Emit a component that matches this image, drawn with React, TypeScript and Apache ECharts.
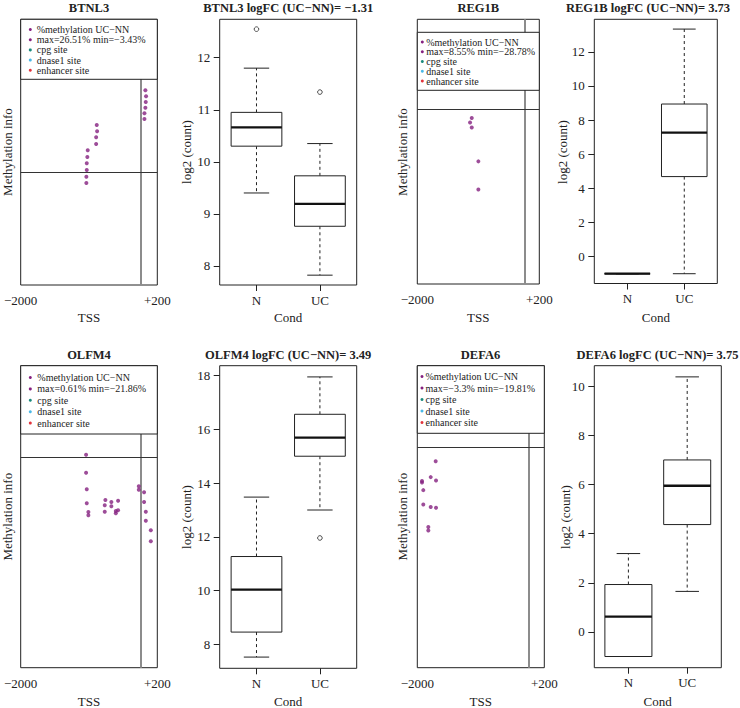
import React, { useEffect, useRef } from "react";
import * as echarts from "echarts";

const FONT = "Liberation Serif, serif";
const INK = "#222";
const PURPLE = "#85207f";

// ---------- Methylation panels: CpG position relative to TSS (bp) and %methylation UC−NN ----------
const btnl3MethPos = [-946, -946, -939, -939, -929, -922, -776, -776, -759, -765, 81, 93, 87, 81, 64, 64];
const btnl3MethVal = [-3.42, -1.39, 0.78, 2.94, 4.97, 7.14, 9.17, 11.34, 13.28, 15.31, 26.52, 24.58, 22.74, 20.9, 19.09, 17.25];

const reg1bMethPos = [-1028, -1061, -1028, -899, -899];
const reg1bMethVal = [-3.2, -4.8, -6.6, -18.7, -28.78];

const olfm4MethPos = [-951, -951, -939, -939, -911, -911, -626, -626, -615, -511, -511, -434, -434, -394, -394, -34, -34, 58, 58, 88, 88, 175, 175];
const olfm4MethVal = [0.61, -4.07, -8.38, -12.01, -14.27, -15.13, -14.19, -12.53, -11.16, -11.68, -12.79, -14.61, -14.01, -13.83, -11.34, -7.6, -8.48, -9.16, -11.68, -14.19, -16.53, -19.02, -21.86];

const defa6MethPos = [-1744, -1837, -1738, -2000, -2000, -1976, -1976, -1837, -1738, -1882, -1882];
const defa6MethVal = [-3.3, -7.1, -7.9, -8.0, -8.4, -10.2, -13.6, -14.2, -14.4, -19.0, -19.81];

const methXLim = [-2000, 200];
const methXTickLabels = ["−2000", "+200"];
const legendFixed = ["%methylation UC−NN", "", "cpg site", "dnase1 site", "enhancer site"];
const legendColors = [PURPLE, PURPLE, "#1a8a7c", "#4ab8e6", "#e2333b"];

// ---------- Expression box plots: [lower whisker, Q1, median, Q3, upper whisker] ----------
const boxCategories = ["N", "UC"];
const btnl3N = [9.4, 10.3, 10.66, 10.95, 11.8];
const btnl3UC = [7.82, 8.76, 9.19, 9.73, 10.35];
const btnl3Outliers = [[1, 12.55], [2, 11.34]];
const reg1bN = [-1, -1, -1, -1, -1];
const reg1bUC = [-1, 4.69, 7.26, 8.94, 13.33];
const reg1bOutliers: number[][] = [];
const olfm4N = [7.53, 8.46, 10.04, 11.27, 13.48];
const olfm4UC = [13.0, 15.0, 15.69, 16.56, 17.95];
const olfm4Outliers = [[2, 11.96]];
const defa6N = [-1, -1, 0.62, 1.93, 3.19];
const defa6UC = [1.65, 4.37, 5.95, 7.0, 10.38];
const defa6Outliers: number[][] = [];

const btnl3Ticks = [8, 9, 10, 11, 12];
const reg1bTicks = [0, 2, 4, 6, 8, 10, 12];
const olfm4Ticks = [8, 10, 12, 14, 16, 18];
const defa6Ticks = [0, 2, 4, 6, 8, 10];

// ---------- layout ----------
type Grid = { left: number; top: number; width: number; height: number };
type LegendBox = { x: number; y: number; w: number; h: number; bx: number; tx: number; y0: number; dy: number };

const methPanels = [
  {
    title: "BTNL3", pos: btnl3MethPos, val: btnl3MethVal, stat: "max=26.51% min=−3.43%", ylim: [-36.37, 49.45],
    grid: { left: 20.7, top: 19.3, width: 136.6, height: 265.7 } as Grid,
    legend: { x: 20.7, y: 19.3, w: 136.6, h: 60, bx: 30.3, tx: 36.7, y0: 29.5, dy: 10.2 } as LegendBox,
    titleXY: [89, 8], ylabXY: [7.5, 152], xlabXY: [89, 317],
  },
  {
    title: "REG1B", pos: reg1bMethPos, val: reg1bMethVal, stat: "max=8.55% min=−28.78%", ylim: [-62.6, 32.15],
    grid: { left: 417.3, top: 19.3, width: 122, height: 264.7 } as Grid,
    legend: { x: 417.3, y: 32.3, w: 122, h: 58, bx: 422.3, tx: 426.2, y0: 42, dy: 9.75 } as LegendBox,
    titleXY: [478.3, 8], ylabXY: [402.5, 152], xlabXY: [478.3, 317],
  },
  {
    title: "OLFM4", pos: olfm4MethPos, val: olfm4MethVal, stat: "max=0.61% min=−21.86%", ylim: [-54.67, 23.7],
    grid: { left: 20.7, top: 365.7, width: 136.6, height: 302 } as Grid,
    legend: { x: 20.7, y: 365.7, w: 136.6, h: 68.3, bx: 30.3, tx: 37.3, y0: 377.5, dy: 11.4 } as LegendBox,
    titleXY: [89, 354.5], ylabXY: [7.5, 516.7], xlabXY: [89, 701],
  },
  {
    title: "DEFA6", pos: defa6MethPos, val: defa6MethVal, stat: "max=−3.3% min=−19.81%", ylim: [-52.48, 19.43],
    grid: { left: 417.3, top: 365.7, width: 127, height: 302 } as Grid,
    legend: { x: 417.3, y: 365.7, w: 127, h: 67.6, bx: 422, tx: 425.5, y0: 376.5, dy: 11.5 } as LegendBox,
    titleXY: [480.5, 354.5], ylabXY: [402.5, 516.7], xlabXY: [480.8, 701],
  },
];

const boxPanels = [
  {
    title: "BTNL3 logFC (UC−NN)= −1.31", n: btnl3N, uc: btnl3UC, out: btnl3Outliers, ticks: btnl3Ticks,
    grid: { left: 219.7, top: 19.3, width: 137, height: 265.7 } as Grid,
    titleXY: [288.2, 8], ylabXY: [186, 152], xlabXY: [288.2, 317],
  },
  {
    title: "REG1B logFC (UC−NN)= 3.73", n: reg1bN, uc: reg1bUC, out: reg1bOutliers, ticks: reg1bTicks,
    grid: { left: 594.3, top: 19.3, width: 123, height: 264.2 } as Grid,
    titleXY: [648, 8], ylabXY: [562, 152], xlabXY: [655.8, 317],
  },
  {
    title: "OLFM4 logFC (UC−NN)= 3.49", n: olfm4N, uc: olfm4UC, out: olfm4Outliers, ticks: olfm4Ticks,
    grid: { left: 219.7, top: 365.7, width: 137, height: 302.6 } as Grid,
    titleXY: [288.2, 354.5], ylabXY: [186.7, 517], xlabXY: [288.2, 701],
  },
  {
    title: "DEFA6 logFC (UC−NN)= 3.75", n: defa6N, uc: defa6UC, out: defa6Outliers, ticks: defa6Ticks,
    grid: { left: 594.3, top: 365.7, width: 127, height: 302 } as Grid,
    titleXY: [657.5, 354.5], ylabXY: [565, 517], xlabXY: [657.7, 701],
  },
];

function textEl(text: string, x: number, y: number, size: number, bold = false, rotate = false) {
  return {
    type: "text",
    x,
    y,
    rotation: rotate ? Math.PI / 2 : 0,
    z: 120,
    silent: true,
    style: {
      text,
      fill: INK,
      fontFamily: FONT,
      fontSize: size,
      fontWeight: bold ? "bold" : "normal",
      textAlign: "center",
      textVerticalAlign: "middle",
    },
  };
}

function buildOption() {
  const grid: any[] = [];
  const xAxis: any[] = [];
  const yAxis: any[] = [];
  const series: any[] = [];
  const graphics: any[] = [];

  const gridStyle = { show: true, borderColor: INK, borderWidth: 1, backgroundColor: "rgba(0,0,0,0)" };
  const labelFont = { fontFamily: FONT, fontSize: 13, color: INK };

  // methylation panels
  const span = methXLim[1] - methXLim[0];
  const xMin = methXLim[0] - 0.04 * span;
  const xMax = methXLim[1] + 0.04 * span;
  methPanels.forEach((p) => {
    const gi = grid.length;
    grid.push({ ...p.grid, ...gridStyle });
    xAxis.push({
      type: "value", gridIndex: gi, min: xMin, max: xMax,
      axisLine: { show: false, onZero: false }, axisTick: { show: false }, splitLine: { show: false },
      axisLabel: {
        ...labelFont, margin: 9, customValues: [xMin, xMax],
        formatter: (v: number) => (v < 0 ? methXTickLabels[0] : methXTickLabels[1]),
      },
    });
    yAxis.push({ type: "value", gridIndex: gi, min: p.ylim[0], max: p.ylim[1], show: false, axisLine: { onZero: false }, splitLine: { show: false } });
    series.push({
      type: "scatter", xAxisIndex: gi, yAxisIndex: gi, silent: true,
      symbol: "circle", symbolSize: 4, itemStyle: { color: PURPLE }, z: 5,
      data: p.pos.map((x, k) => [x, p.val[k]]),
      markLine: {
        silent: true, symbol: ["none", "none"], label: { show: false }, animation: false, z: 3,
        data: [
          { xAxis: 0, lineStyle: { color: "#8c8c8c", width: 2, type: "solid" } },
          { yAxis: 0, lineStyle: { color: "#333", width: 1, type: "solid" } },
        ],
      },
    });
    const L = p.legend;
    graphics.push({
      type: "rect", z: 110, silent: true,
      shape: { x: L.x, y: L.y, width: L.w, height: L.h },
      style: { fill: "#fff", stroke: INK, lineWidth: 1 },
    });
    const lines = legendFixed.map((t, k) => (k === 1 ? p.stat : t));
    lines.forEach((t, k) => {
      const yy = L.y0 + k * L.dy;
      graphics.push({ type: "circle", z: 115, silent: true, shape: { cx: L.bx, cy: yy, r: 1.5 }, style: { fill: legendColors[k] } });
      graphics.push({
        type: "text", x: L.tx, y: yy, z: 115, silent: true,
        style: { text: t, fill: INK, fontFamily: FONT, fontSize: 10, textAlign: "left", textVerticalAlign: "middle" },
      });
    });
    graphics.push(textEl(p.title, p.titleXY[0], p.titleXY[1], 12.5, true));
    graphics.push(textEl("Methylation info", p.ylabXY[0], p.ylabXY[1], 13, false, true));
    graphics.push(textEl("TSS", p.xlabXY[0], p.xlabXY[1], 13));
  });

  // box plot panels
  boxPanels.forEach((p) => {
    const gi = grid.length;
    grid.push({ ...p.grid, ...gridStyle });
    const all = [...p.n, ...p.uc, ...p.out.map((o) => o[1])];
    const lo = Math.min(...all);
    const hi = Math.max(...all);
    const pad = 0.04 * (hi - lo);
    const catPos = boxCategories.map((_, i) => i + 1);
    xAxis.push({
      type: "value", gridIndex: gi, min: 0.5 - 0.04 * boxCategories.length, max: boxCategories.length + 0.5 + 0.04 * boxCategories.length,
      axisLine: { show: false, onZero: false }, splitLine: { show: false },
      axisTick: { show: true, customValues: catPos, length: 6, lineStyle: { color: INK } },
      axisLabel: { ...labelFont, margin: 8.5, customValues: catPos, formatter: (v: number) => boxCategories[Math.round(v) - 1] },
    });
    yAxis.push({
      type: "value", gridIndex: gi, min: lo - pad, max: hi + pad,
      axisLine: { show: false, onZero: false }, splitLine: { show: false },
      axisTick: { show: true, customValues: p.ticks, length: 6, lineStyle: { color: INK } },
      axisLabel: { ...labelFont, margin: 9.5, customValues: p.ticks },
    });
    series.push({
      type: "custom", xAxisIndex: gi, yAxisIndex: gi, silent: true, z: 4,
      encode: { x: 0, y: [1, 2, 3, 4, 5] },
      data: [[1, ...p.n], [2, ...p.uc]],
      renderItem: (params: any, api: any) => {
        const x = api.value(0);
        const vLo = api.value(1), q1 = api.value(2), med = api.value(3), q3 = api.value(4), vHi = api.value(5);
        const cx = api.coord([x, med])[0];
        const bl = api.coord([x - 0.4, med])[0];
        const br = api.coord([x + 0.4, med])[0];
        const cl = api.coord([x - 0.2, med])[0];
        const cr = api.coord([x + 0.2, med])[0];
        const yLo = api.coord([x, vLo])[1];
        const yQ1 = api.coord([x, q1])[1];
        const yMed = api.coord([x, med])[1];
        const yQ3 = api.coord([x, q3])[1];
        const yHi = api.coord([x, vHi])[1];
        const solid = { stroke: INK, lineWidth: 1 };
        const dashed = { stroke: INK, lineWidth: 1, lineDash: [3, 3] };
        return {
          type: "group",
          children: [
            { type: "line", shape: { x1: cx, y1: yQ3, x2: cx, y2: yHi }, style: dashed },
            { type: "line", shape: { x1: cx, y1: yQ1, x2: cx, y2: yLo }, style: dashed },
            { type: "line", shape: { x1: cl, y1: yHi, x2: cr, y2: yHi }, style: solid },
            { type: "line", shape: { x1: cl, y1: yLo, x2: cr, y2: yLo }, style: solid },
            { type: "rect", shape: { x: bl, y: yQ3, width: br - bl, height: yQ1 - yQ3 }, style: { fill: "#fff", stroke: INK, lineWidth: 1 } },
            { type: "line", shape: { x1: bl, y1: yMed, x2: br, y2: yMed }, style: { stroke: "#111", lineWidth: 2.3 } },
          ],
        };
      },
    });
    if (p.out.length) {
      series.push({
        type: "scatter", xAxisIndex: gi, yAxisIndex: gi, silent: true, z: 6,
        symbol: "circle", symbolSize: 4.6,
        itemStyle: { color: "#fff", borderColor: INK, borderWidth: 1 },
        data: p.out,
      });
    }
    graphics.push(textEl(p.title, p.titleXY[0], p.titleXY[1], 12.5, true));
    graphics.push(textEl("log2 (count)", p.ylabXY[0], p.ylabXY[1], 13, false, true));
    graphics.push(textEl("Cond", p.xlabXY[0], p.xlabXY[1], 13));
  });

  return {
    animation: false,
    backgroundColor: "#fff",
    textStyle: { fontFamily: FONT },
    grid,
    xAxis,
    yAxis,
    series,
    graphic: { elements: graphics },
  };
}

export default function App() {
  const ref = useRef<HTMLDivElement>(null);
  useEffect(() => {
    document.body.style.margin = "0";
    if (!ref.current) return;
    const chart = echarts.init(ref.current, undefined, { renderer: "svg" });
    chart.setOption(buildOption() as any);
    return () => chart.dispose();
  }, []);
  return <div ref={ref} style={{ width: 740, height: 708 }} />;
}
